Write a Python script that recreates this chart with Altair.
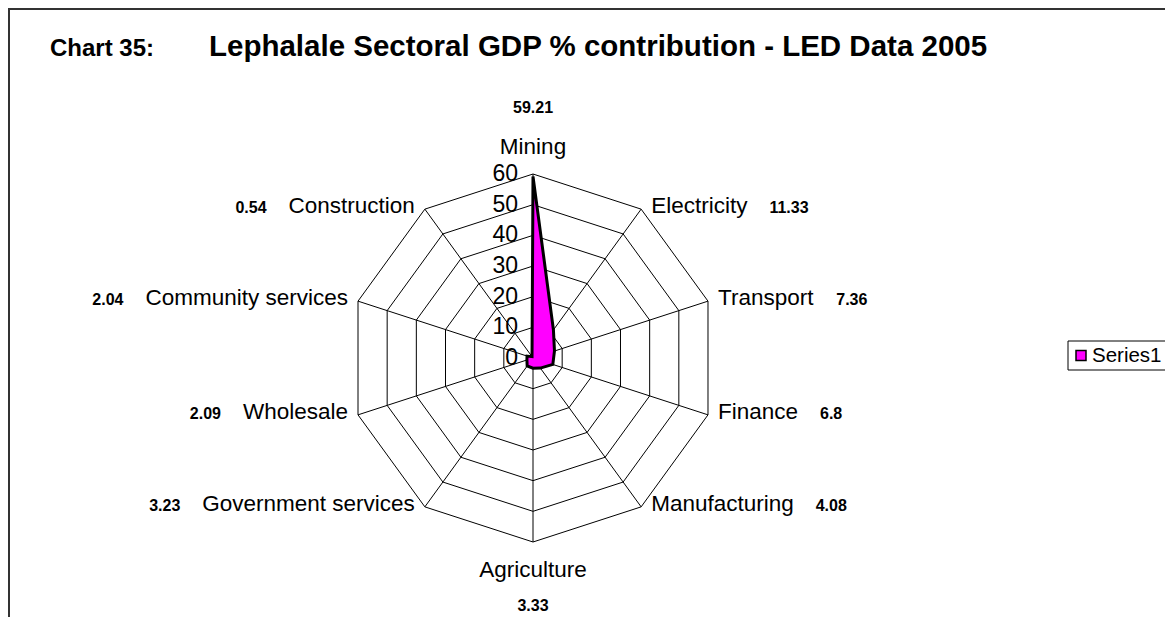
import altair as alt
import pandas as pd

# ---- data -------------------------------------------------------------
categories = ["Mining", "Electricity", "Transport", "Finance", "Manufacturing",
              "Agriculture", "Government services", "Wholesale",
              "Community services", "Construction"]
values = [59.21, 11.33, 7.36, 6.8, 4.08, 3.33, 3.23, 2.09, 2.04, 0.54]
value_labels = ["59.21", "11.33", "7.36", "6.8", "4.08", "3.33", "3.23",
                "2.09", "2.04", "0.54"]
tick_values = [0, 10, 20, 30, 40, 50, 60]
series_name = "Series1"
title_prefix = "Chart 35:"
title_text = "Lephalale Sectoral GDP % contribution - LED Data 2005"

# ---- layout -----------------------------------------------------------
W, H = 1157, 609
CX, CY = 525, 350          # centre of the radar, plot pixels
R_MAX = max(tick_values)
PX = 184 / R_MAX            # pixels per unit
x_dom = [-CX / PX, (W - CX) / PX]
y_dom = [-(H - CY) / PX, CY / PX]
CAT_FONT = 22.5
VAL_FONT = 16
FONT = "Liberation Sans, Arial, sans-serif"

# Arial advance widths (1/1000 em) to place value labels after category names
ARIAL = {" ": 278, "A": 667, "C": 722, "E": 667, "F": 611, "G": 778, "M": 833,
         "T": 611, "W": 944, "a": 556, "b": 556, "c": 500, "d": 556, "e": 556,
         "f": 278, "g": 556, "h": 556, "i": 222, "l": 222, "m": 833, "n": 556,
         "o": 556, "p": 556, "r": 333, "s": 500, "t": 278, "u": 556, "v": 500,
         "y": 500}


def text_width(s, size):
    return sum(ARIAL.get(ch, 556) for ch in s) * size / 1000.0


df = pd.DataFrame({"cat": categories, "v": values, "lab": value_labels,
                   "i": list(range(len(categories)))})
df["series"] = series_name
df["lw"] = [text_width(c, CAT_FONT) for c in categories]

N = len(categories)
grid = pd.DataFrame([(lv, i) for lv in tick_values[1:] for i in range(N)],
                    columns=["level", "i"])
ticks = pd.DataFrame({"level": tick_values, "t": [str(t) for t in tick_values]})

xs = alt.Scale(domain=x_dom, nice=False, zero=False)
ys = alt.Scale(domain=y_dom, nice=False, zero=False)
X = lambda f: alt.X(f, type="quantitative", scale=xs, axis=None)
Y = lambda f: alt.Y(f, type="quantitative", scale=ys, axis=None)

ang = f"datum.i*2*PI/{N}"

rings = alt.Chart(grid).transform_calculate(
    x=f"datum.level*sin({ang})", y=f"datum.level*cos({ang})"
).mark_line(interpolate="linear-closed", stroke="black", strokeWidth=1).encode(
    x=X("x"), y=Y("y"), detail="level:N", order="i:Q")

spokes = alt.Chart(df).transform_calculate(
    x0="0", y0="0", x=f"{R_MAX}*sin({ang})", y=f"{R_MAX}*cos({ang})"
).mark_rule(stroke="black", strokeWidth=1).encode(
    x=X("x0"), y=Y("y0"), x2="x:Q", y2="y:Q")

poly = alt.Chart(df).transform_calculate(
    x=f"datum.v*sin({ang})", y=f"datum.v*cos({ang})"
).mark_line(interpolate="linear-closed", fill="#FF00FF", stroke="black",
            strokeWidth=3, strokeJoin="miter").encode(
    x=X("x"), y=Y("y"), order="i:Q")

tick_text = alt.Chart(ticks).transform_calculate(x0="0").mark_text(
    align="right", baseline="middle", dx=-15, font=FONT, fontSize=23,
    color="black").encode(x=X("x0"), y=Y("level"), text="t:N")

base = alt.Chart(df).transform_calculate(
    s=f"sin({ang})", c=f"cos({ang})",
    vx=f"{R_MAX}*sin({ang})", vy=f"{R_MAX}*cos({ang})")

GAP1, GAP2 = 10, 22
right = base.transform_filter("datum.s > 0.1")
left = base.transform_filter("datum.s < -0.1")
top = base.transform_filter("datum.i == 0")
bottom = base.transform_filter(f"datum.i == {N // 2}")

cat_right = right.mark_text(align="left", baseline="middle", dx=GAP1, dy=-3,
                            font=FONT, fontSize=CAT_FONT).encode(
    x=X("vx"), y=Y("vy"), text="cat:N")
val_right = right.transform_calculate(
    lx=f"datum.vx + ({GAP1 + GAP2} + datum.lw)/{PX}"
).mark_text(align="left", baseline="middle", dy=-1, font=FONT, fontSize=VAL_FONT,
            fontWeight="bold").encode(x=X("lx"), y=Y("vy"), text="lab:N")

cat_left = left.mark_text(align="right", baseline="middle", dx=-GAP1, dy=-3,
                          font=FONT, fontSize=CAT_FONT).encode(
    x=X("vx"), y=Y("vy"), text="cat:N")
val_left = left.transform_calculate(
    lx=f"datum.vx - ({GAP1 + GAP2} + datum.lw)/{PX}"
).mark_text(align="right", baseline="middle", dy=-1, font=FONT, fontSize=VAL_FONT,
            fontWeight="bold").encode(x=X("lx"), y=Y("vy"), text="lab:N")

cat_top = top.mark_text(align="center", baseline="middle", dy=-27, font=FONT,
                        fontSize=CAT_FONT).encode(x=X("vx"), y=Y("vy"), text="cat:N")
val_top = top.mark_text(align="center", baseline="middle", dy=-66, font=FONT,
                        fontSize=VAL_FONT, fontWeight="bold").encode(
    x=X("vx"), y=Y("vy"), text="lab:N")
cat_bot = bottom.mark_text(align="center", baseline="middle", dy=28, font=FONT,
                           fontSize=CAT_FONT).encode(x=X("vx"), y=Y("vy"), text="cat:N")
val_bot = bottom.mark_text(align="center", baseline="middle", dy=64, font=FONT,
                           fontSize=VAL_FONT, fontWeight="bold").encode(
    x=X("vx"), y=Y("vy"), text="lab:N")

# ---- frame, title, legend --------------------------------------------
one = pd.DataFrame({"series": [series_name], "p": [title_prefix], "t": [title_text]})
frame_l = alt.Chart(one).mark_rule(stroke="#333333", strokeWidth=2).encode(
    x=alt.value(1), y=alt.value(0), y2=alt.value(H + 10))
frame_t = alt.Chart(one).mark_rule(stroke="#333333", strokeWidth=2).encode(
    y=alt.value(1), x=alt.value(0), x2=alt.value(W + 30))

title1 = alt.Chart(one).mark_text(align="left", baseline="alphabetic", font=FONT,
                                  fontSize=24, fontWeight="bold").encode(
    x=alt.value(42), y=alt.value(48), text="p:N")
title2 = alt.Chart(one).mark_text(align="left", baseline="alphabetic", font=FONT,
                                  fontSize=29.5, fontWeight="bold").encode(
    x=alt.value(201), y=alt.value(48), text="t:N")

leg_box = alt.Chart(one).mark_rect(fill="white", stroke="black", strokeWidth=1).encode(
    x=alt.value(1060), x2=alt.value(W + 40), y=alt.value(333), y2=alt.value(362))
leg_sym = alt.Chart(one).mark_square(size=100, fill="#FF00FF", stroke="black",
                                     strokeWidth=1.5, opacity=1).encode(
    x=alt.value(1073), y=alt.value(347.5))
leg_txt = alt.Chart(one).mark_text(align="left", baseline="middle", font=FONT,
                                   fontSize=20.5).encode(
    x=alt.value(1084), y=alt.value(348), text="series:N")

chart = alt.layer(
    frame_l, frame_t, title1, title2,
    rings, spokes, poly, tick_text,
    cat_right, val_right, cat_left, val_left, cat_top, val_top, cat_bot, val_bot,
    leg_box, leg_sym, leg_txt,
).properties(
    width=W, height=H, padding=0,
    autosize=alt.AutoSizeParams(type="none"),
).configure_view(strokeWidth=0, stroke="transparent").configure(background="white")

chart.save("out.html", embed_options={"renderer": "svg", "actions": False})
